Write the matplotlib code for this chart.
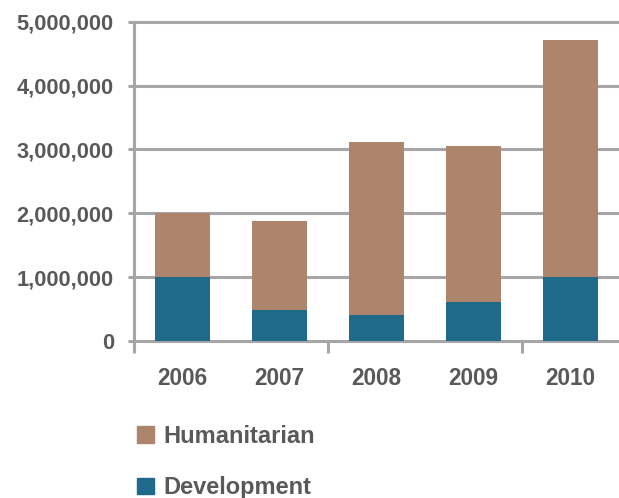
import matplotlib.pyplot as plt
from matplotlib.patches import Patch
from matplotlib.ticker import FuncFormatter

plt.rcParams['font.family'] = ['Liberation Sans', 'DejaVu Sans']
plt.rcParams['font.weight'] = 'bold'

years = ['2006', '2007', '2008', '2009', '2010']
development = [1000000, 480000, 400000, 610000, 1000000]
humanitarian = [1000000, 1395000, 2710000, 2450000, 3720000]

brown = '#ad846c'
teal = '#1f6a8a'
grey = '#a6a6a9'
text_col = '#595959'

fig = plt.figure(figsize=(6.19, 4.98), dpi=100)
ax = fig.add_axes([134 / 619, 1 - 341 / 498, 1 - 134 / 619, (341 - 21.7) / 498])

x = range(len(years))
ax.bar(x, development, width=0.56, color=teal, zorder=3)
ax.bar(x, humanitarian, width=0.56, bottom=development, color=brown, zorder=3)

ax.set_xlim(-0.5, 4.5)
ax.set_ylim(0, 5000000)

# horizontal grid, drawn unclipped so the top line is not cut in half
for v in range(0, 5000001, 1000000):
    ax.axhline(v, color=grey, lw=2.2, zorder=1, clip_on=False)

for s in ['top', 'right', 'bottom']:
    ax.spines[s].set_visible(False)
ax.spines['left'].set_color(grey)
ax.spines['left'].set_linewidth(2.2)

ax.set_yticks(range(0, 5000001, 1000000))
ax.yaxis.set_major_formatter(FuncFormatter(lambda v, p: f'{int(v):,}'))
ax.tick_params(axis='y', length=4.5, width=2.2, color=grey, pad=10,
               labelsize=15.7, labelcolor=text_col)

ax.set_xticks(list(x))
ax.set_xticklabels(years)
ax.tick_params(axis='x', which='major', length=0, pad=19,
               labelsize=16.3, labelcolor=text_col)
ax.set_xticks([-0.5, 1.5, 3.5], minor=True)
ax.tick_params(axis='x', which='minor', length=8.5, width=2.2, color=grey)

handles = [Patch(color=brown, label='Humanitarian'),
           Patch(color=teal, label='Development')]
fig.legend(handles=handles, loc='upper left', bbox_to_anchor=(137 / 619, 1 - 425 / 498),
           frameon=False, fontsize=17, handlelength=0.72, handleheight=0.72,
           handletextpad=0.4, labelspacing=1.2, borderpad=0, borderaxespad=0,
           labelcolor=text_col)

fig.savefig('out.png', dpi=100)
